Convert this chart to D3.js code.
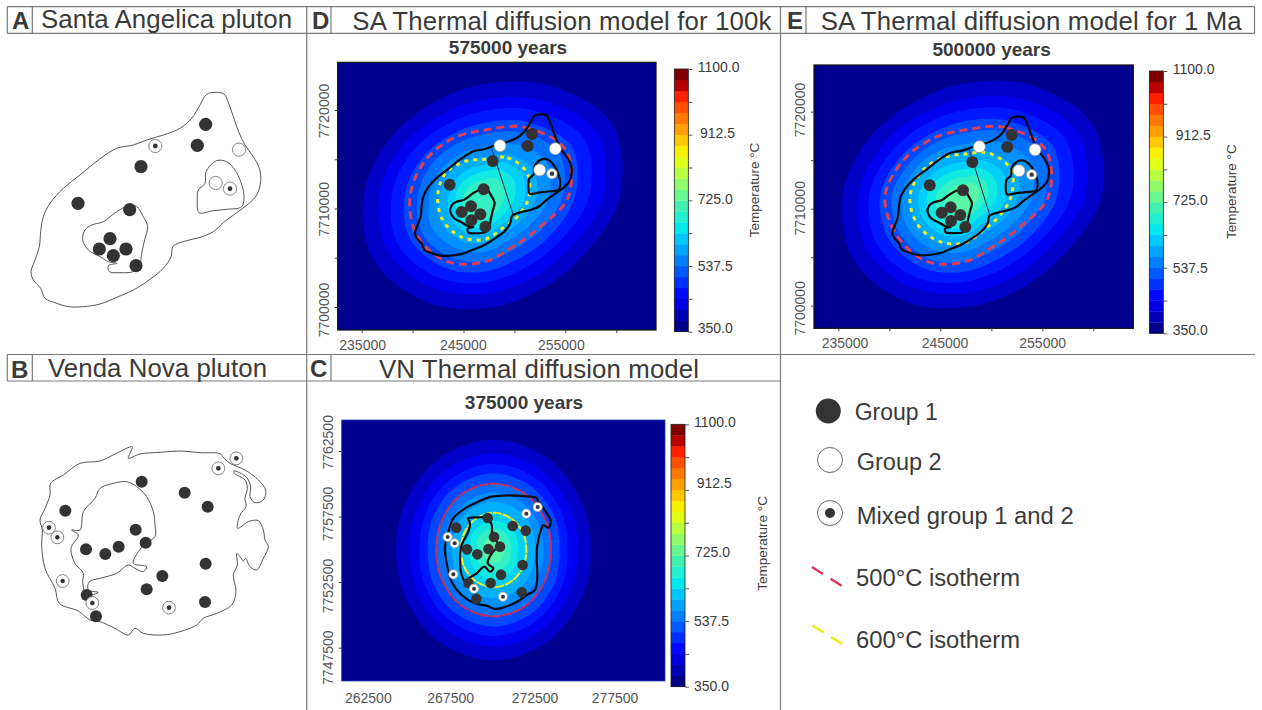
<!DOCTYPE html>
<html>
<head>
<meta charset="utf-8">
<script src="https://cdn.jsdelivr.net/npm/d3@7/dist/d3.min.js"></script>
<style>
  body { margin: 0; background: #fff; }
  text { font-family: "Liberation Sans", Arial, sans-serif; fill: #3a3a3a; }
</style>
</head>
<body>
<div id="figure"></div>
<script>
// all map outlines and sites are digitised in "sheet units" (3 units = 1 screen px)

const bandColors = ["#000088","#0000b4","#0000e0","#0008ff","#0030ff","#0058ff","#0080ff","#00a4ff",
    "#00c8ff","#00e8f0","#20f0d0","#40f0b0","#68f890","#90fc68","#b8ff40","#e0ff18",
    "#f8f000","#ffc800","#ffa000","#ff7800","#ff5000","#ff2000","#b80000","#800000"];
const modelColors = ["#00008f","#0000c8","#0000f0","#0018ff","#0048ff","#0070ff","#0090ff","#00b0ff",
    "#00d0fa","#10eae0","#34f0c4","#58f6a8"];
const tempLabels = ["350.0","537.5","725.0","912.5","1100.0"];
const tempTicks = [350, 443.75, 537.5, 631.25, 725, 818.75, 912.5, 1006.25, 1100];

// Santa Angelica outlines (panel A sheet units)
const saOutline = [[620,283],[645,277],[672,282],[686,310],[700,350],[716,395],[735,435],[760,470],[778,505],[782,545],[770,585],[745,612],[710,638],[670,668],[640,695],[600,712],[560,722],[520,738],[513,770],[490,805],[450,838],[400,870],[350,892],[300,912],[250,920],[205,920],[165,908],[135,895],[122,865],[100,840],[93,815],[105,780],[118,740],[122,695],[130,650],[150,610],[190,565],[240,525],[295,480],[350,445],[400,435],[440,420],[490,405],[540,385],[575,355],[600,315]];
const saCoreWest = [[385,618],[410,620],[430,650],[443,680],[435,715],[425,760],[418,800],[400,815],[360,818],[328,815],[325,797],[350,790],[325,785],[300,770],[265,750],[248,720],[255,690],[275,675],[310,665],[350,635]];
const saCoreEast = [[650,482],[680,485],[705,510],[722,545],[732,585],[725,620],[680,628],[640,632],[597,638],[592,600],[595,570],[615,550],[618,515]];

// Venda Nova outlines (panel B sheet units)
const vnOutline = [[397,275],[390,295],[385,310],[420,297],[480,292],[540,288],[600,293],[660,296],[668,305],[690,325],[735,345],[775,375],[797,405],[790,435],[765,443],[750,425],[752,395],[738,365],[702,348],[703,355],[735,375],[742,400],[735,430],[738,455],[720,480],[713,520],[745,500],[775,497],[790,525],[795,555],[805,575],[790,610],[770,645],[750,635],[737,610],[730,618],[720,605],[710,595],[712,630],[700,660],[708,710],[695,750],[650,775],[610,790],[590,810],[540,830],[490,840],[430,835],[405,820],[385,840],[345,820],[300,800],[270,795],[235,768],[178,745],[165,700],[135,640],[125,570],[127,525],[120,495],[135,460],[150,420],[152,385],[190,360],[240,325],[300,318],[345,297]];
const vnCore = [[300,400],[340,385],[380,380],[410,395],[440,425],[460,470],[465,510],[465,545],[437,565],[415,590],[400,625],[440,635],[430,650],[405,640],[385,630],[350,655],[300,670],[268,680],[265,705],[295,712],[260,720],[248,680],[250,655],[225,625],[213,580],[235,540],[215,525],[240,525],[250,470],[285,430]];

// Venda Nova outlines as drawn over the model (panel C sheet units)
const vnModelOutline = [[560,425],[610,421],[665,424],[693,428],[700,440],[722,470],[738,500],[730,518],[715,510],[708,525],[697,570],[695,610],[697,660],[690,705],[665,720],[640,738],[610,752],[570,762],[545,752],[510,745],[470,720],[440,680],[425,625],[420,575],[430,530],[445,490],[480,460],[520,440]];
const vnModelCore = [[490,490],[520,487],[548,489],[560,510],[562,540],[580,570],[560,595],[548,625],[565,640],[555,650],[538,635],[515,655],[490,672],[487,690],[470,660],[465,610],[470,570],[490,530],[495,505]];

// sample sites
const sitesAGroup1 = [[617,373],[592,436],[423,500],[234,610],[389,629],[330,716],[298,747],[378,747],[340,767],[408,797]];
const sitesAGroup2 = [[717,449],[647,549]];
const sitesAMixed = [[466,438],[690,566]];
const sitesBGroup1 = [[425,380],[554,413],[623,455],[196,467],[407,524],[437,563],[258,583],[316,597],[356,575],[617,626],[487,663],[440,703],[260,720],[615,741],[288,784]];
const sitesBMixed = [[709,310],[655,340],[147,518],[172,547],[188,678],[277,744],[507,758]];
const sitesDGroup1 = [[681,402],[668,438],[563,483],[434,554],[536,568],[498,619],[470,636],[526,643],[499,661],[541,680]];
const sitesDGroup2 = [[585,437],[751,446],[704,510]];
const sitesDMixed = [[741,521]];
const sitesEGroup1 = [[695,405],[682,441],[577,486],[449,556],[549,571],[512,622],[485,638],[541,645],[513,663],[556,681]];
const sitesEGroup2 = [[598,440],[765,449],[717,512]];
const sitesEMixed = [[755,524]];
const sitesCGroup1 = [[548,489],[454,518],[623,513],[662,527],[567,546],[585,575],[550,582],[486,583],[517,598],[653,630],[588,659],[557,684],[490,684],[650,712],[514,731]];
const sitesCMixed = [[698,456],[664,476],[428,546],[449,565],[445,658],[507,701],[594,725]];

// temperature bands: radius read every 30 deg clockwise from north
const bandsD = [
    [338,385,440,405,345,325,335,362,385,365,335,322],
    [292,335,388,355,300,282,292,315,335,318,292,278],
    [258,298,345,312,262,245,258,280,298,280,258,245],
    [222,258,300,270,228,212,225,245,258,242,222,212],
    [188,222,258,232,195,180,195,210,218,202,188,180],
    [150,182,212,192,162,148,165,178,185,167,156,148],
    [120,145,165,155,132,122,138,150,152,137,130,120],
    [96,118,130,120,104,98,112,122,120,110,102,95],
    [76,92,100,90,80,78,92,100,98,88,80,74],
    [52,64,68,60,56,58,70,78,76,65,56,50]
];
const red500D = [200,240,280,250,187,172,195,225,235,225,210,200];
const yellow600D = [112,135,145,132,115,108,128,140,145,142,138,122];

const bandsE = [
    [340,388,440,410,345,322,332,362,385,368,338,322],
    [294,338,390,360,300,280,290,315,336,320,292,280],
    [260,300,347,318,262,244,255,282,300,288,260,248],
    [226,262,304,276,230,212,225,248,262,255,228,215],
    [192,226,264,240,198,182,195,215,225,220,195,185],
    [158,190,222,202,165,150,165,185,196,190,170,158],
    [128,152,172,160,135,122,140,158,168,166,150,135],
    [105,124,135,125,106,98,115,132,142,140,122,108],
    [82,98,105,95,80,76,92,108,116,114,98,85],
    [60,72,75,68,56,56,72,85,92,88,72,62],
    [38,46,48,42,36,38,50,60,64,58,46,40]
];
const red500E = [200,240,280,250,187,172,195,225,235,240,215,200];
const yellow600E = [128,150,160,138,118,114,138,155,165,165,150,135];

const bandsC = [
    [331,320,301,293,301,320,331,320,301,293,301,320],
    [290,280,262,252,262,280,290,280,262,252,262,280],
    [258,249,233,222,233,249,258,249,233,222,233,249],
    [230,222,208,198,208,222,230,222,208,198,208,222],
    [198,191,179,173,179,191,198,191,179,173,179,191],
    [172,166,156,150,156,166,172,166,156,150,156,166],
    [145,140,131,125,131,140,145,140,131,125,131,140],
    [113,109,102,98,102,109,113,109,102,98,102,109],
    [88,85,79,72,79,85,88,85,79,72,79,85],
    [64,62,57,52,57,62,64,62,57,52,57,62],
    [38,37,34,32,34,37,38,37,34,32,34,37]
];
const red500C = [199,193,179,172,179,193,199,193,179,172,179,193];
const yellow600C = [112,108,102,98,102,108,112,108,102,98,102,108];

const panelLetters = ["A","B","C","D","E"];
const legendLabels = ["Group 1","Group 2","Mixed group 1 and 2","500°C isotherm","600°C isotherm"];

const width = 1262;
const height = 710;

let svg = d3.select("#figure")
    .append("svg")
    .attr("width", width)
    .attr("height", height)
    .style("display", "block");

const smooth = d3.curveCatmullRomClosed.alpha(0.5);
const unit = d3.scaleLinear().domain([0, 3]).range([0, 1]);

function sheet(ox, oy) {
    return {
        x: d3.scaleLinear().domain([0, 3]).range([ox, ox + 1]),
        y: d3.scaleLinear().domain([0, 3]).range([oy, oy + 1])
    };
}

function drawOutline(g, pts, sx, sy, stroke, w) {
    g.append("path")
        .datum(pts)
        .attr("d", d3.line().x(d => sx(d[0])).y(d => sy(d[1])).curve(smooth))
        .attr("fill", "none")
        .attr("stroke", stroke)
        .attr("stroke-width", w);
}

function drawSites(g, s, sets, r) {
    g.selectAll(".g1").data(sets.group1 || []).enter().append("circle")
        .attr("cx", d => s.x(d[0])).attr("cy", d => s.y(d[1]))
        .attr("r", r.fill).attr("fill", "#333");
    g.selectAll(".g2").data(sets.group2 || []).enter().append("circle")
        .attr("cx", d => s.x(d[0])).attr("cy", d => s.y(d[1]))
        .attr("r", r.fill).attr("fill", "#fff")
        .attr("stroke", r.ring).attr("stroke-width", 0.8);
    let mixed = g.selectAll(".mx").data(sets.mixed || []).enter().append("g");
    mixed.append("circle")
        .attr("cx", d => s.x(d[0])).attr("cy", d => s.y(d[1]))
        .attr("r", r.mixed).attr("fill", "#fff")
        .attr("stroke", r.ring).attr("stroke-width", 0.8);
    mixed.append("circle")
        .attr("cx", d => s.x(d[0])).attr("cy", d => s.y(d[1]))
        .attr("r", r.dot).attr("fill", "#333");
}

function drawModel(p) {
    const s = sheet(p.ox, p.oy);
    const clipId = "clip-" + p.name;
    svg.append("clipPath").attr("id", clipId)
        .append("rect")
        .attr("x", s.x(p.frame[0])).attr("y", s.y(p.frame[2]))
        .attr("width", unit(p.frame[1] - p.frame[0]))
        .attr("height", unit(p.frame[3] - p.frame[2]));

    let g = svg.append("g");
    g.append("rect")
        .attr("x", s.x(p.frame[0])).attr("y", s.y(p.frame[2]))
        .attr("width", unit(p.frame[1] - p.frame[0]))
        .attr("height", unit(p.frame[3] - p.frame[2]))
        .attr("fill", modelColors[0]);

    const radial = d3.lineRadial()
        .angle((d, i) => i * Math.PI / 6)
        .radius(d => unit(d))
        .curve(smooth);

    let bands = g.append("g")
        .attr("clip-path", "url(#" + clipId + ")")
        .append("g")
        .attr("transform", `translate(${s.x(p.centre[0])},${s.y(p.centre[1])})`);
    bands.selectAll("path").data(p.bands).enter().append("path")
        .attr("d", d => radial(d))
        .attr("fill", (d, i) => modelColors[i + 1]);

    // isotherms
    bands.append("path").attr("d", radial(p.red))
        .attr("fill", "none").attr("stroke", p.redColor)
        .attr("stroke-width", p.isoWidth).attr("stroke-dasharray", p.redDash);
    bands.append("path").attr("d", radial(p.yellow))
        .attr("fill", "none").attr("stroke", "#f2f01e")
        .attr("stroke-width", p.isoWidth).attr("stroke-dasharray", p.yellowDash);

    // pluton outlines
    p.outlines.forEach(o => {
        const x = d3.scaleLinear().domain(o.domainX).range(o.rangeX.map(v => s.x(v)));
        const y = d3.scaleLinear().domain(o.domainY).range(o.rangeY.map(v => s.y(v)));
        o.shapes.forEach(sh => drawOutline(g, sh, x, y, "#0a0a0a", 2.2));
        if (o.contact) {
            g.append("line")
                .attr("x1", s.x(o.contact[0][0])).attr("y1", s.y(o.contact[0][1]))
                .attr("x2", s.x(o.contact[1][0])).attr("y2", s.y(o.contact[1][1]))
                .attr("stroke", "#223").attr("stroke-width", 1);
        }
    });

    drawSites(g, s, p.sites, p.siteRadius);

    // frame
    g.append("rect")
        .attr("x", s.x(p.frame[0])).attr("y", s.y(p.frame[2]))
        .attr("width", unit(p.frame[1] - p.frame[0]))
        .attr("height", unit(p.frame[3] - p.frame[2]))
        .attr("fill", "none").attr("stroke", p.frameColor).attr("stroke-width", p.frameWidth);

    // axes: ticks from the UTM scales, labels moved as in the figure
    const xScale = d3.scaleLinear().domain(p.xDomain).range(p.xRange.map(v => s.x(v)));
    const yScale = d3.scaleLinear().domain(p.yDomain).range(p.yRange.map(v => s.y(v)));
    if (p.xTicks.length) {
        let xAxis = svg.append("g")
            .attr("transform", `translate(0,${s.y(p.frame[3])})`)
            .call(d3.axisBottom(xScale).tickValues(p.xTicks).tickSize(3).tickFormat(""));
        xAxis.select(".domain").remove();
        xAxis.selectAll("line").attr("stroke", "#444");
    }
    let yAxis = svg.append("g")
        .attr("transform", `translate(${s.x(p.frame[0])},0)`)
        .call(d3.axisLeft(yScale).tickValues(p.yTicks).tickSize(3).tickFormat(""));
    yAxis.select(".domain").remove();
    yAxis.selectAll("line").attr("stroke", "#444");

    p.xLabels.forEach((v, i) => {
        svg.append("text").attr("x", s.x(p.xLabelPos[i])).attr("y", s.y(p.xLabelBase))
            .attr("text-anchor", "middle").style("font-size", "14px")
            .style("fill", "#555").text(v);
    });
    p.yLabels.forEach((v, i) => {
        svg.append("text")
            .attr("transform", `translate(${s.x(p.yLabelBase)},${s.y(p.yLabelPos[i])}) rotate(-90)`)
            .attr("text-anchor", "middle").style("font-size", "14px")
            .style("fill", "#555").text(v);
    });

    // colour bar
    const cy = d3.scaleLinear().domain([350, 1100]).range([s.y(p.bar[3]), s.y(p.bar[2])]);
    const step = 750 / bandColors.length;
    svg.append("g").selectAll("rect").data(bandColors).enter().append("rect")
        .attr("x", s.x(p.bar[0]))
        .attr("width", unit(p.bar[1] - p.bar[0]))
        .attr("y", (d, i) => cy(350 + step * (i + 1)))
        .attr("height", cy(350) - cy(350 + step) + 0.3)
        .attr("fill", d => d);
    svg.append("rect")
        .attr("x", s.x(p.bar[0])).attr("y", s.y(p.bar[2]))
        .attr("width", unit(p.bar[1] - p.bar[0])).attr("height", unit(p.bar[3] - p.bar[2]))
        .attr("fill", "none").attr("stroke", "#222").attr("stroke-width", 0.8);
    let barAxis = svg.append("g")
        .attr("transform", `translate(${s.x(p.bar[1])},0)`)
        .call(d3.axisRight(cy).tickValues(tempTicks).tickSize(4).tickFormat(""));
    barAxis.select(".domain").remove();
    barAxis.selectAll("line").attr("stroke", "#555");
    tempLabels.forEach((v, i) => {
        svg.append("text")
            .attr("x", s.x(p.barLabelX[i])).attr("y", s.y(p.barLabelY[i]))
            .attr("dy", "0.36em").style("font-size", "14px").text(v);
    });
    svg.append("text")
        .attr("transform", `translate(${s.x(p.tempTitle[0])},${s.y(p.tempTitle[1])}) rotate(-90)`)
        .attr("text-anchor", "middle").style("font-size", "13.5px")
        .text("Temperature °C");

    // years heading
    svg.append("text")
        .attr("x", s.x(p.years[0])).attr("y", s.y(p.years[1]))
        .attr("text-anchor", "middle")
        .style("font-size", "19px").style("font-weight", "bold")
        .text(p.yearsText);
}

// panel A
let sA = sheet(0, 0);
let gA = svg.append("g");
[saOutline, saCoreWest, saCoreEast].forEach(pts => drawOutline(gA, pts, sA.x, sA.y, "#555", 1));
drawSites(gA, sA, {group1: sitesAGroup1, group2: sitesAGroup2, mixed: sitesAMixed},
    {fill: 6.6, mixed: 6.6, dot: 2.4, ring: "#666"});

// panel B
let sB = sheet(0, 355);
let gB = svg.append("g");
[vnOutline, vnCore].forEach(pts => drawOutline(gB, pts, sB.x, sB.y, "#555", 1));
drawSites(gB, sB, {group1: sitesBGroup1, mixed: sitesBMixed},
    {fill: 6, mixed: 6.4, dot: 2.3, ring: "#666"});

const saDomainX = [93, 782], saDomainY = [277, 920];

drawModel({
    name: "D", ox: 305, oy: 0, frame: [98, 1053, 187, 990], centre: [540, 590],
    bands: bandsD, red: red500D, yellow: yellow600D,
    redColor: "#dc4057", isoWidth: 3, redDash: "8 5", yellowDash: "4 5",
    outlines: [{domainX: saDomainX, domainY: saDomainY, rangeX: [330, 800], rangeY: [343, 767],
        shapes: [saOutline, saCoreWest, saCoreEast], contact: [[560,445],[625,645]]}],
    sites: {group1: sitesDGroup1, group2: sitesDGroup2, mixed: sitesDMixed},
    siteRadius: {fill: 6, mixed: 5.2, dot: 2.2, ring: "#999"},
    frameColor: "#111", frameWidth: 1.2,
    xDomain: [235000, 255000], xRange: [170, 781], yDomain: [7700000, 7720000], yRange: [921, 330],
    xTicks: [235000, 240000, 245000, 250000, 255000, 260000],
    yTicks: [7700000, 7705000, 7710000, 7715000, 7720000],
    xLabels: ["235000","245000","255000"], xLabelPos: [173, 475, 769], xLabelBase: 1050,
    yLabels: ["7720000","7710000","7700000"], yLabelPos: [333, 628, 930], yLabelBase: 72,
    bar: [1108, 1150, 207, 995],
    barLabelX: [1178, 1178, 1178, 1185, 1178], barLabelY: [985, 797, 596, 398, 200],
    tempTitle: [1362, 570], years: [609, 162], yearsText: "575000 years"
});

drawModel({
    name: "E", ox: 780, oy: 0, frame: [102, 1060, 195, 985], centre: [555, 590],
    bands: bandsE, red: red500E, yellow: yellow600E,
    redColor: "#dc4057", isoWidth: 3, redDash: "8 5", yellowDash: "4 5",
    outlines: [{domainX: saDomainX, domainY: saDomainY, rangeX: [337, 807], rangeY: [350, 765],
        shapes: [saOutline, saCoreWest, saCoreEast], contact: [[567,447],[630,647]]}],
    sites: {group1: sitesEGroup1, group2: sitesEGroup2, mixed: sitesEMixed},
    siteRadius: {fill: 6, mixed: 5.2, dot: 2.2, ring: "#999"},
    frameColor: "#111", frameWidth: 1.2,
    xDomain: [235000, 255000], xRange: [175, 787], yDomain: [7700000, 7720000], yRange: [917, 335],
    xTicks: [235000, 240000, 245000, 250000, 255000, 260000],
    yTicks: [7700000, 7705000, 7710000, 7715000, 7720000],
    xLabels: ["235000","245000","255000"], xLabelPos: [195, 495, 788], xLabelBase: 1045,
    yLabels: ["7720000","7710000","7700000"], yLabelPos: [330, 625, 925], yLabelBase: 76,
    bar: [1108, 1150, 213, 1000],
    barLabelX: [1178, 1178, 1178, 1187, 1178], barLabelY: [990, 803, 601, 405, 208],
    tempTitle: [1367, 575], years: [635, 168], yearsText: "500000 years"
});

drawModel({
    name: "C", ox: 305, oy: 355, frame: [110, 1080, 195, 978], centre: [566, 585],
    bands: bandsC, red: red500C, yellow: yellow600C,
    redColor: "#c83058", isoWidth: 2, redDash: "10 1", yellowDash: "9 1",
    outlines: [{domainX: [0, 1], domainY: [0, 1], rangeX: [0, 1], rangeY: [0, 1],
        shapes: [vnModelOutline, vnModelCore]}],
    sites: {group1: sitesCGroup1, mixed: sitesCMixed},
    siteRadius: {fill: 5.3, mixed: 4.6, dot: 2, ring: "#aaa"},
    frameColor: "#2840b0", frameWidth: 0.8,
    xDomain: [262500, 277500], xRange: [190, 930], yDomain: [7747500, 7762500], yRange: [878, 288],
    xTicks: [],
    yTicks: [7747500, 7752500, 7757500, 7762500],
    xLabels: ["262500","267500","272500","277500"], xLabelPos: [190, 437, 690, 930], xLabelBase: 1045,
    yLabels: ["7762500","7757500","7752500","7747500"], yLabelPos: [262, 477, 693, 908], yLabelBase: 85,
    bar: [1098, 1140, 208, 995],
    barLabelX: [1167, 1167, 1170, 1175, 1167], barLabelY: [993, 798, 590, 385, 200],
    tempTitle: [1387, 565], years: [657, 162], yearsText: "375000 years"
});

// title rules
const ruleColor = "#7a7a7a";
const rules = [
    [7, 6.7, 1255, 6.7], [7, 33.3, 1255, 33.3], [7, 354.5, 1255, 354.5], [7, 381, 780.5, 381],
    [7.3, 6.7, 7.3, 33.3], [32.3, 6.7, 32.3, 33.3], [7.3, 354.5, 7.3, 381], [32.3, 354.5, 32.3, 381],
    [306.7, 6.7, 306.7, 710], [331, 6.7, 331, 33.3], [331, 354.5, 331, 381],
    [780.5, 6.7, 780.5, 710], [806, 6.7, 806, 33.3], [1254.5, 6.7, 1254.5, 33.3]
];
svg.append("g").selectAll("line").data(rules).enter().append("line")
    .attr("x1", d => d[0]).attr("y1", d => d[1]).attr("x2", d => d[2]).attr("y2", d => d[3])
    .attr("stroke", ruleColor).attr("stroke-width", 1.2);

// panel headings
const headings = [
    {t: "Santa Angelica pluton", x: 41, y: 28, w: 251},
    {t: "Venda Nova pluton", x: 48, y: 377, w: 219},
    {t: "SA Thermal diffusion model for 100k", x: 352.3, y: 30, w: 419},
    {t: "SA Thermal diffusion model for 1 Ma", x: 820.7, y: 30, w: 421},
    {t: "VN Thermal diffusion model", x: 379, y: 377.5, w: 320}
];
svg.append("g").selectAll("text").data(headings).enter().append("text")
    .attr("x", d => d.x).attr("y", d => d.y)
    .attr("textLength", d => d.w).attr("lengthAdjust", "spacing")
    .style("font-size", "25.8px")
    .text(d => d.t);

const letterPos = [[12, 28.5], [11, 377.5], [310, 377], [312, 29], [787, 29]];
panelLetters.forEach((l, i) => {
    svg.append("text").attr("x", letterPos[i][0]).attr("y", letterPos[i][1])
        .style("font-size", "24px").style("font-weight", "bold").text(l);
});

// legend
let legend = svg.append("g");
legend.append("circle").attr("cx", 828.3).attr("cy", 411).attr("r", 12.5).attr("fill", "#333");
legend.append("circle").attr("cx", 830).attr("cy", 460).attr("r", 12.5)
    .attr("fill", "#fff").attr("stroke", "#555").attr("stroke-width", 0.9);
legend.append("circle").attr("cx", 830).attr("cy", 513).attr("r", 12.5)
    .attr("fill", "#fff").attr("stroke", "#555").attr("stroke-width", 0.9);
legend.append("circle").attr("cx", 830).attr("cy", 513).attr("r", 5).attr("fill", "#333");
legend.append("line").attr("x1", 812).attr("y1", 567).attr("x2", 842).attr("y2", 586)
    .attr("stroke", "#d8344f").attr("stroke-width", 2.4).attr("stroke-dasharray", "13 9");
legend.append("line").attr("x1", 812.5).attr("y1", 625.5).attr("x2", 843).attr("y2", 644.5)
    .attr("stroke", "#f0ea1a").attr("stroke-width", 2.4).attr("stroke-dasharray", "13 9");
const legendPos = [[854.7, 420], [856.7, 470], [856.7, 524], [856, 586], [856, 648]];
const legendLen = [83, 85, 217, 164, 164];
legendLabels.forEach((l, i) => {
    legend.append("text").attr("x", legendPos[i][0]).attr("y", legendPos[i][1])
        .attr("textLength", legendLen[i]).attr("lengthAdjust", "spacingAndGlyphs")
        .style("font-size", "23.5px").text(l);
});
</script>
</body>
</html>
